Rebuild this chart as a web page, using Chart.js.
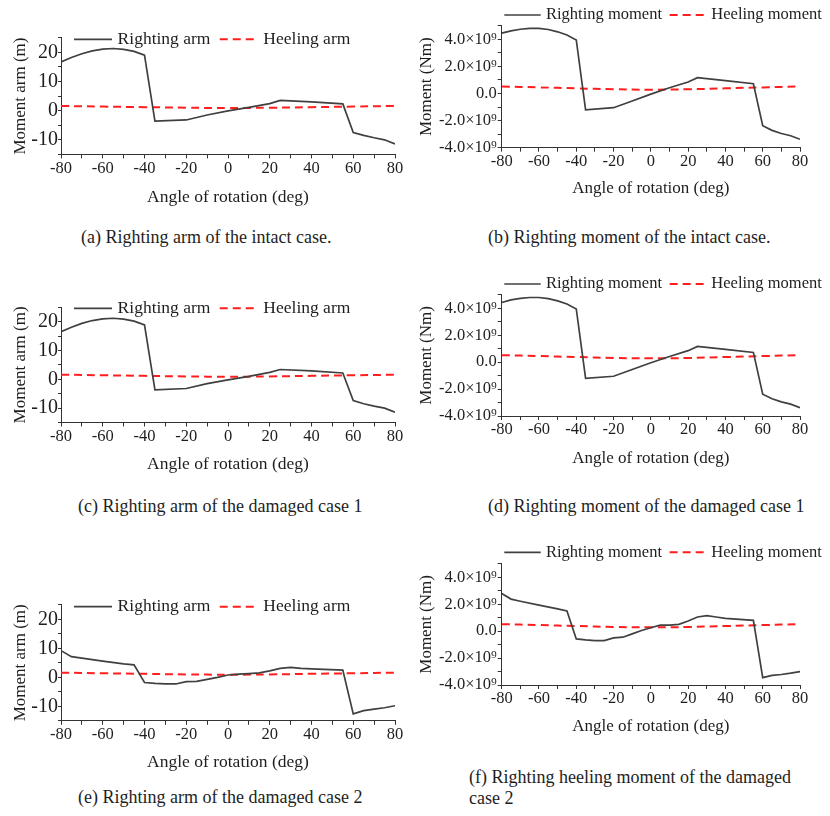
<!DOCTYPE html>
<html><head><meta charset="utf-8">
<script src="https://cdn.jsdelivr.net/npm/chart.js@4.4.1/dist/chart.umd.min.js"></script>
<style>
html,body{margin:0;padding:0;background:#fff;}
body{width:830px;height:816px;position:relative;overflow:hidden;font-family:'Liberation Serif','Times New Roman',serif;}
canvas{position:absolute;}
.cap{position:absolute;font-size:18px;color:#1e1e1e;white-space:nowrap;line-height:21px;}
</style></head><body>
<canvas id="ca"></canvas><canvas id="cb"></canvas>
<canvas id="cc"></canvas><canvas id="cd"></canvas>
<canvas id="ce"></canvas><canvas id="cf"></canvas>
<div class="cap" style="left:81px;top:227px">(a) Righting arm of the intact case.</div>
<div class="cap" style="left:488px;top:227px">(b) Righting moment of the intact case.</div>
<div class="cap" style="left:78px;top:496px">(c) Righting arm of the damaged case 1</div>
<div class="cap" style="left:488px;top:496px">(d) Righting moment of the damaged case 1</div>
<div class="cap" style="left:78px;top:787px">(e) Righting arm of the damaged case 2</div>
<div class="cap" style="left:469px;top:767px">(f) Righting heeling moment of the damaged<br>case 2</div>
<script>
// ---------- DATA ----------
const anglesIntact = [-80,-75,-70,-65,-60,-55,-50,-45,-40,-35,-20,-10,0,10,20,25,40,55,60,65,70,75,80];
const armIntact    = [16.7,18.2,19.5,20.5,21.1,21.3,21.0,20.3,19.0,-3.6,-3.2,-1.5,-0.1,1.1,2.4,3.5,3.0,2.3,-7.5,-8.5,-9.3,-10.0,-11.4];
const momIntact    = [4.45e9,4.62e9,4.74e9,4.80e9,4.80e9,4.72e9,4.55e9,4.32e9,3.95e9,-1.20e9,-1.05e9,-0.55e9,-0.05e9,0.42e9,0.85e9,1.17e9,0.95e9,0.72e9,-2.38e9,-2.72e9,-2.95e9,-3.12e9,-3.38e9];
const armDamaged1  = [16.5,18.1,19.4,20.4,21.0,21.2,20.9,20.2,18.9,-3.7,-3.2,-1.5,-0.2,1.0,2.4,3.4,2.9,2.2,-7.4,-8.5,-9.3,-10.0,-11.4];
const momDamaged1  = [4.43e9,4.62e9,4.74e9,4.80e9,4.80e9,4.72e9,4.55e9,4.32e9,3.95e9,-1.20e9,-1.05e9,-0.55e9,-0.05e9,0.42e9,0.85e9,1.17e9,0.95e9,0.72e9,-2.38e9,-2.72e9,-2.95e9,-3.12e9,-3.38e9];
const anglesDamaged2 = [-80,-75,-70,-60,-50,-45,-40,-35,-30,-25,-20,-15,-10,-5,0,5,10,15,20,25,30,35,40,55,60,65,70,75,80];
const armDamaged2  = [9.2,7.1,6.6,5.6,4.6,4.3,-1.8,-2.1,-2.3,-2.3,-1.5,-1.4,-0.7,0.0,0.8,1.1,1.3,1.5,2.2,3.1,3.4,3.1,2.9,2.5,-12.6,-11.5,-11.0,-10.5,-9.8];
const momDamaged2  = [2.8e9,2.38e9,2.22e9,1.93e9,1.65e9,1.5e9,-0.58e9,-0.65e9,-0.7e9,-0.7e9,-0.5e9,-0.45e9,-0.2e9,0.05e9,0.25e9,0.45e9,0.45e9,0.5e9,0.75e9,1.05e9,1.15e9,1.05e9,0.95e9,0.8e9,-3.45e9,-3.28e9,-3.22e9,-3.12e9,-3.0e9];
const anglesHeel   = [-80,-60,-40,-20,0,20,40,60,80];
const heelArm      = [1.6,1.4,1.2,1.0,0.9,1.0,1.2,1.4,1.6];
const heelMoment   = [0.52e9,0.45e9,0.38e9,0.31e9,0.28e9,0.31e9,0.38e9,0.45e9,0.52e9];
const xTicks       = [-80,-70,-60,-50,-40,-30,-20,-10,0,10,20,30,40,50,60,70,80];
const armTicks     = [-15,-10,-5,0,5,10,15,20,25];
const momTicks     = [-4e9,-3e9,-2e9,-1e9,0,1e9,2e9,3e9,4e9,5e9];

const FONT = "'Liberation Serif','Times New Roman',serif";
const TXT = '#1e1e1e';
const pts = (xs, ys) => xs.map((x,i)=>({x, y: ys[i]}));

const inlineLegend = {
  id:'inlineLegend',
  afterDraw(chart, args, o){
    const ctx = chart.ctx; ctx.save();
    ctx.font = o.size + 'px ' + FONT;
    ctx.textBaseline = 'middle';
    let x = o.x;
    chart.data.datasets.forEach((ds)=>{
      ctx.beginPath();
      ctx.setLineDash(ds.borderDash || []);
      ctx.strokeStyle = ds.borderColor; ctx.lineWidth = ds.borderWidth;
      ctx.moveTo(x, o.y); ctx.lineTo(x + o.sample, o.y); ctx.stroke();
      x += o.sample + o.gap;
      ctx.setLineDash([]); ctx.fillStyle = TXT;
      ctx.fillText(ds.label, x, o.y);
      x += ctx.measureText(ds.label).width + o.itemGap;
    });
    ctx.restore();
  }
};

function panel(id, g, kind, xs, ys, hx, hy){
  const arm = kind === 'arm';
  const cv = document.getElementById(id);
  cv.width = g.W; cv.height = g.H;
  cv.style.left = g.L + 'px'; cv.style.top = g.T + 'px';
  const yW = g.pl - g.L, xH = g.T + g.H - g.pb;
  const grid = {drawOnChartArea:false, drawTicks:true, tickLength:4, tickColor:'#333', color:'#333'};
  new Chart(cv, {
    type:'line',
    data:{datasets:[
      {label: arm ? 'Righting arm' : 'Righting moment', data: pts(xs, ys), borderColor:'#404040', borderWidth:1.7, pointRadius:0, tension:0, fill:false},
      {label: arm ? 'Heeling arm' : 'Heeling moment', data: pts(hx, hy), borderColor:'rgb(255,30,30)', borderWidth:2, borderDash:[8,5], pointRadius:0, tension:0.4, fill:false}
    ]},
    options:{
      responsive:false, animation:false, devicePixelRatio:1,
      layout:{padding:{left:0, top:g.pt - g.T, right:g.L + g.W - g.pr, bottom:0}},
      plugins:{legend:{display:false}, tooltip:{enabled:false},
        inlineLegend:{x:g.lx - g.L, y:g.ly - g.T, size: arm ? 17.5 : 16.5, sample: arm ? 38 : 36.4, gap: arm ? 5.6 : 5.3, itemGap: arm ? 9.3 : 7.7}},
      scales:{
        x:{type:'linear', min:-80, max:80,
          afterBuildTicks: s => { s.ticks = xTicks.map(v=>({value:v})); },
          afterFit: s => { s.height = xH; },
          ticks:{font:{family:FONT, size:16.5}, color:TXT, padding:0, maxRotation:0, autoSkip:false,
            callback: v => (v % 20 === 0 ? String(v) : '')},
          grid, border:{display:true, color:'#333', width:1},
          title:{display:true, text:'Angle of rotation (deg)', color:TXT, font:{family:FONT, size: arm ? 17.5 : 17}, padding:0}},
        y:{type:'linear', min: arm ? -15 : -4e9, max: arm ? 25 : 5e9,
          afterBuildTicks: s => { s.ticks = (arm ? armTicks : momTicks).map(v=>({value:v})); },
          afterFit: s => { s.width = yW; },
          ticks:{font:{family:FONT, size: arm ? 20 : 16.5}, color:TXT, padding: arm ? 0 : 1, autoSkip:false,
            callback: v => {
              if (arm) return (v % 10 === 0 ? String(v) : '');
              const n = Math.round(v / 1e9);
              if (n % 2 !== 0) return '';
              if (n === 0) return '0.0';
              return n.toFixed(1) + '×10⁹';
            }},
          grid:{...grid, tickLength: arm ? 3 : 4}, border:{display:true, color:'#333', width:1},
          title:{display:true, text: arm ? 'Moment arm (m)' : 'Moment (Nm)', color:TXT, font:{family:FONT, size:17}, padding:0}}
      }
    },
    plugins:[inlineLegend]
  });
}

// layout geometry (page px)
const LEFT  = {L:10,  W:400, pl:61,    pr:395, lx:74};
const RIGHT = {L:416, W:414, pl:501.7, pr:800, lx:504.3};
panel('ca', {...LEFT,  T:20,  H:188, pt:37.7,  pb:154.4, ly:39.3}, 'arm', anglesIntact, armIntact, anglesHeel, heelArm);
panel('cb', {...RIGHT, T:0,   H:199, pt:25.7,  pb:147.7, ly:15},   'mom', anglesIntact, momIntact, anglesHeel, heelMoment);
panel('cc', {...LEFT,  T:290, H:185, pt:307.3, pb:422.5, ly:308.3},'arm', anglesIntact, armDamaged1, anglesHeel, heelArm);
panel('cd', {...RIGHT, T:270, H:199, pt:294.8, pb:416,   ly:284},  'mom', anglesIntact, momDamaged1, anglesHeel, heelMoment);
panel('ce', {...LEFT,  T:590, H:183, pt:604.8, pb:720.8, ly:606.7},'arm', anglesDamaged2, armDamaged2, anglesHeel, heelArm);
panel('cf', {...RIGHT, T:540, H:197, pt:563.8, pb:685,   ly:552.3},'mom', anglesDamaged2, momDamaged2, anglesHeel, heelMoment);
</script>
</body></html>
